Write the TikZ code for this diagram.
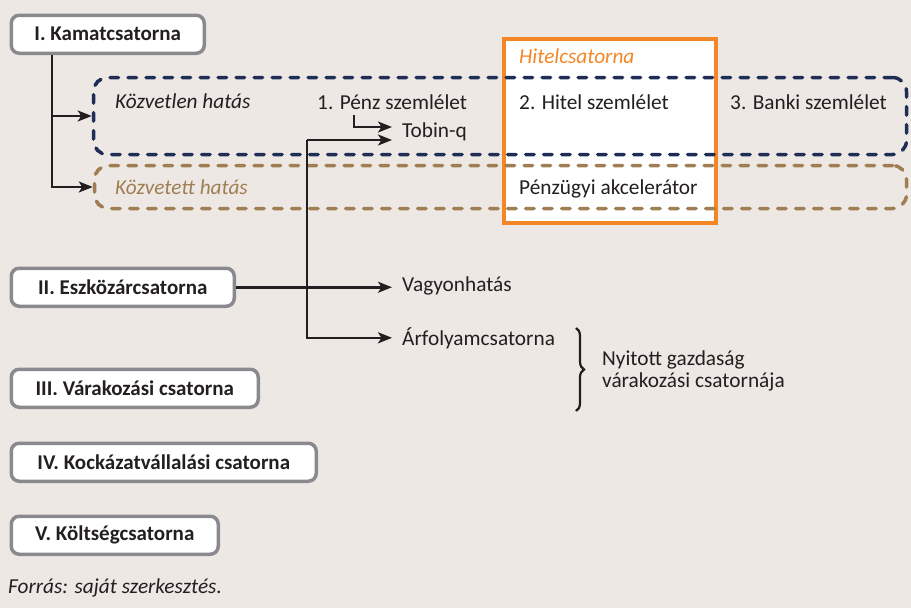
\documentclass[tikz,border=0pt]{standalone}
\usepackage{fontspec}
\setmainfont{Carlito}
\usepackage{xcolor}
\usepackage{tikz}
\usetikzlibrary{shapes,arrows.meta,decorations.pathreplacing}
\definecolor{paper}{RGB}{237,232,228}
\definecolor{ink}{RGB}{35,31,32}
\definecolor{frame}{RGB}{137,137,142}
\definecolor{navy}{RGB}{31,45,87}
\definecolor{tan}{RGB}{160,126,84}
\definecolor{hitel}{RGB}{243,135,38}
\tikzstyle{channel} = [rectangle, draw=frame, line width=3.5pt, rounded corners=8pt, fill=white, text=ink, font=\fontsize{21}{25}\selectfont\bfseries, anchor=north west, inner xsep=0pt, minimum height=38pt]
\tikzstyle{label} = [text=ink, font=\fontsize{21.3}{25}\selectfont, anchor=base west, inner sep=0pt]
\tikzstyle{target} = [label, inner xsep=10pt]
\tikzstyle{zone} = [draw, line width=3.5pt, rounded corners=14pt, dash pattern=on 8.5pt off 9.5pt, line cap=round]
\tikzstyle{line} = [draw=ink, line width=2.5pt, -{Stealth[length=14pt,width=11pt,inset=3.5pt]}]

\begin{document}
\begin{tikzpicture}[x=1pt,y=-1pt]
\fill [paper] (0,0) rectangle (911,608);
\useasboundingbox (0,0) rectangle (911,608);

% credit channel box, under the dashed areas
\node [draw=hitel, line width=4pt, fill=white, minimum width=212pt, minimum height=184pt] (hitel) at (610,131) {};
\node [label, text=hitel, font=\fontsize{21.3}{25}\selectfont\itshape] (hitelname) at (519,63) {Hitelcsatorna};

% dashed areas
\node [zone, draw=navy, minimum width=813pt, minimum height=77pt] (direct) at (500,116) {};
\node [zone, draw=tan, minimum width=812pt, minimum height=43pt] (indirect) at (500.5,187) {};

\node [label, font=\fontsize{21.3}{25}\selectfont\itshape] (directname) at (115,108) {Közvetlen hatás};
\node [label, text=tan, font=\fontsize{21.3}{25}\selectfont\itshape] (indirectname) at (115,194) {Közvetett hatás};
\node [label] (penz) at (317,109) {1. Pénz szemlélet};
\node [label] (hitelsz) at (519,109) {2. Hitel szemlélet};
\node [label] (banki) at (730,109) {3. Banki szemlélet};
\node [label] (akcel) at (519,194) {Pénzügyi akcelerátor};
\node [target] (tobin) at (392,137) {Tobin-q};
\node [target] (vagyon) at (392,291) {Vagyonhatás};
\node [target] (arf) at (392,345) {Árfolyamcsatorna};

% channels
\node [channel, minimum width=193pt] (k1) at (9.5,13.5) {I. Kamatcsatorna};
\node [channel, minimum width=223pt] (k2) at (9.5,266.5) {II. Eszközárcsatorna};
\node [channel, minimum width=247pt] (k3) at (9.5,367.5) {III. Várakozási csatorna};
\node [channel, minimum width=305pt] (k4) at (9.5,441.5) {IV. Kockázatvállalási csatorna};
\node [channel, minimum width=207pt] (k5) at (9.5,514.5) {V. Költségcsatorna};

% arrows
\coordinate (a1) at (52,0);
\path [line] (k1.south -| a1) |- (direct.west);
\path [line] (k1.south -| a1) |- (indirect.west);
\coordinate (p1) at (354,115);
\coordinate (p2) at (354,127);
\path [line] (p1) -- (p2) -- (p2 -| tobin.west);
\coordinate (f1) at (307,140);
\path [line] (f1) -- (f1 -| tobin.west);
\path [line] (f1) |- (arf.west);
\path [line] (k2.east) -- (k2.east -| vagyon.west);

% open economy
\coordinate (b1) at (576,328);
\coordinate (b2) at (576,411);
\draw [ink, line width=2.2pt, decorate, decoration={brace, amplitude=8pt}] (b1) -- (b2);
\node [label, align=left, font=\fontsize{21.3}{22}\selectfont] (nyitott) at (602,387) {Nyitott gazdaság\\várakozási csatornája};

\node [label, font=\fontsize{21.3}{25}\selectfont\itshape] (forras) at (8,593) {Forrás: saját szerkesztés.};
\end{tikzpicture}
\end{document}
